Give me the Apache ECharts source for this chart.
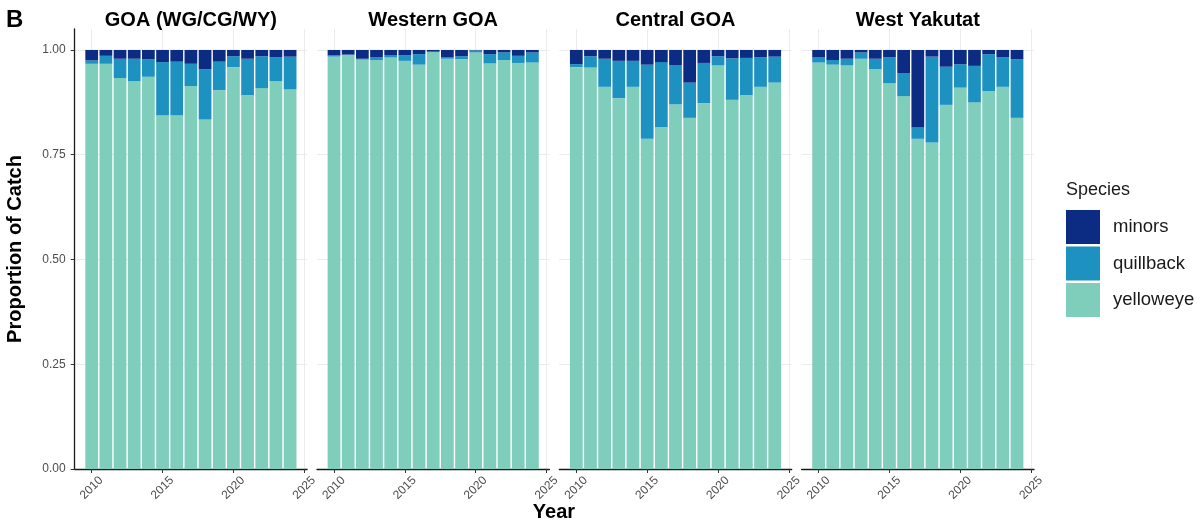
<!DOCTYPE html>
<html>
<head>
<meta charset="utf-8">
<script src="https://cdn.jsdelivr.net/npm/echarts@6/dist/echarts.min.js"></script>
<style>
  html, body { margin: 0; padding: 0; background: #ffffff; }
  #chart { width: 1201px; height: 524px; }
</style>
</head>
<body>
<div id="chart"></div>
<script>
// Catch composition by year, one panel per management area
const years = [2010, 2011, 2012, 2013, 2014, 2015, 2016, 2017, 2018, 2019, 2020, 2021, 2022, 2023, 2024];
const regions = ['GOA (WG/CG/WY)', 'Western GOA', 'Central GOA', 'West Yakutat'];
const speciesOrder = ['minors', 'quillback', 'yelloweye'];
const yearTicks = [2010, 2015, 2020, 2025];
const proportionTicks = [0, 0.25, 0.5, 0.75, 1];

// GOA (WG/CG/WY)
const yelloweyeGOA = [0.967, 0.967, 0.933, 0.925, 0.936, 0.844, 0.844, 0.914, 0.834, 0.904, 0.959, 0.892, 0.909, 0.925, 0.906];
const quillbackGOA = [0.008, 0.019, 0.046, 0.054, 0.042, 0.127, 0.128, 0.053, 0.120, 0.068, 0.026, 0.087, 0.076, 0.058, 0.078];
const minorsGOA    = [0.025, 0.014, 0.021, 0.021, 0.022, 0.029, 0.028, 0.033, 0.046, 0.028, 0.015, 0.021, 0.015, 0.017, 0.016];

// Western GOA
const yelloweyeWG = [0.984, 0.988, 0.977, 0.976, 0.982, 0.974, 0.965, 0.995, 0.979, 0.978, 0.994, 0.968, 0.976, 0.969, 0.970];
const quillbackWG = [0.003, 0.001, 0.002, 0.007, 0.006, 0.013, 0.025, 0.001, 0.003, 0.007, 0.005, 0.022, 0.018, 0.017, 0.024];
const minorsWG    = [0.013, 0.011, 0.021, 0.017, 0.012, 0.013, 0.010, 0.004, 0.018, 0.015, 0.001, 0.010, 0.006, 0.014, 0.006];

// Central GOA
const yelloweyeCG = [0.959, 0.958, 0.912, 0.885, 0.912, 0.788, 0.816, 0.870, 0.838, 0.873, 0.963, 0.881, 0.892, 0.912, 0.922];
const quillbackCG = [0.007, 0.027, 0.067, 0.089, 0.062, 0.177, 0.155, 0.094, 0.084, 0.096, 0.022, 0.099, 0.089, 0.071, 0.062];
const minorsCG    = [0.034, 0.015, 0.021, 0.026, 0.026, 0.035, 0.029, 0.036, 0.078, 0.031, 0.015, 0.020, 0.019, 0.017, 0.016];

// West Yakutat
const yelloweyeWY = [0.970, 0.965, 0.963, 0.979, 0.954, 0.921, 0.890, 0.788, 0.779, 0.869, 0.910, 0.875, 0.902, 0.912, 0.838];
const quillbackWY = [0.012, 0.011, 0.016, 0.015, 0.025, 0.062, 0.055, 0.027, 0.205, 0.091, 0.056, 0.087, 0.088, 0.071, 0.140];
const minorsWY    = [0.018, 0.024, 0.021, 0.006, 0.021, 0.017, 0.055, 0.185, 0.016, 0.040, 0.034, 0.038, 0.010, 0.017, 0.022];

const panelData = [
  { yelloweye: yelloweyeGOA, quillback: quillbackGOA, minors: minorsGOA },
  { yelloweye: yelloweyeWG,  quillback: quillbackWG,  minors: minorsWG },
  { yelloweye: yelloweyeCG,  quillback: quillbackCG,  minors: minorsCG },
  { yelloweye: yelloweyeWY,  quillback: quillbackWY,  minors: minorsWY }
];

const colors = { minors: '#0c2c84', quillback: '#1d91c0', yelloweye: '#7fcdbb' };
const FONT = '"Liberation Sans", Arial, Helvetica, sans-serif';

// Panel geometry
const panelLeft0 = 74.7, panelWidth = 232.4, panelStep = 242.3;
const panelTop = 29, panelHeight = 440;

const grids = [], xAxes = [], yAxes = [], series = [], graphics = [];

regions.forEach((name, i) => {
  const left = panelLeft0 + i * panelStep;
  grids.push({ left: left, top: panelTop, width: panelWidth, height: panelHeight, containLabel: false });

  xAxes.push({
    gridIndex: i, type: 'value', min: 2008.8, max: 2025.2,
    axisLine: { show: true, onZero: false, lineStyle: { color: '#1a1a1a', width: 1.3 } },
    axisTick: { show: true, length: 4, customValues: yearTicks, lineStyle: { color: '#333333', width: 1 } },
    axisLabel: {
      customValues: yearTicks, rotate: 45, align: 'center', verticalAlign: 'middle', margin: 19,
      fontSize: 12, color: '#4d4d4d', fontFamily: FONT, formatter: v => String(v)
    },
    splitLine: { show: true, lineStyle: { color: '#ebebeb', width: 1 } }
  });

  const first = i === 0;
  yAxes.push({
    gridIndex: i, type: 'value', min: 0, max: 1.05,
    axisLine: { show: first, onZero: false, lineStyle: { color: '#1a1a1a', width: 1.3 } },
    axisTick: { show: first, length: 4, customValues: proportionTicks, lineStyle: { color: '#333333', width: 1 } },
    axisLabel: {
      show: first, customValues: proportionTicks, margin: 9,
      fontSize: 12, color: '#4d4d4d', fontFamily: FONT, formatter: v => v.toFixed(2)
    },
    splitLine: { show: true, lineStyle: { color: '#ebebeb', width: 1 } }
  });

  // stacked bottom-up: yelloweye, quillback, minors
  // share is the first dimension so the stack runs along the proportion axis
  ['yelloweye', 'quillback', 'minors'].forEach(sp => {
    series.push({
      name: sp, type: 'bar', xAxisIndex: i, yAxisIndex: i, stack: 'panel' + i,
      barWidth: '90%',
      dimensions: ['share', 'year'],
      encode: { x: 'year', y: 'share' },
      itemStyle: { color: colors[sp] },
      emphasis: { disabled: true },
      data: years.map((yr, k) => [panelData[i][sp][k], yr])
    });
  });

  graphics.push({
    type: 'text', x: left + panelWidth / 2, y: 20.5,
    style: { text: name, align: 'center', verticalAlign: 'middle', font: 'bold 20px ' + FONT, fill: '#000000' }
  });
});

graphics.push(
  { type: 'text', x: 6, y: 20, style: { text: 'B', align: 'left', verticalAlign: 'middle', font: 'bold 24px ' + FONT, fill: '#000000' } },
  { type: 'text', x: 554, y: 512, style: { text: 'Year', align: 'center', verticalAlign: 'middle', font: 'bold 20px ' + FONT, fill: '#000000' } },
  { type: 'text', x: 15, y: 249, rotation: Math.PI / 2,
    style: { text: 'Proportion of Catch', align: 'center', verticalAlign: 'middle', font: 'bold 20px ' + FONT, fill: '#000000' } },
  { type: 'text', x: 1066, y: 190, style: { text: 'Species', align: 'left', verticalAlign: 'middle', font: '18px ' + FONT, fill: '#1a1a1a' } }
);

const chart = echarts.init(document.getElementById('chart'), null, { renderer: 'canvas' });
chart.setOption({
  animation: false,
  backgroundColor: '#ffffff',
  grid: grids,
  xAxis: xAxes,
  yAxis: yAxes,
  series: series,
  legend: {
    orient: 'vertical', left: 1066, top: 210, padding: 0,
    itemWidth: 34, itemHeight: 34, itemGap: 2.5, icon: 'rect',
    selectedMode: false,
    data: speciesOrder,
    textStyle: { fontSize: 18.5, color: '#1a1a1a', fontFamily: FONT, padding: [0, 0, 0, 8] }
  },
  graphic: graphics
});
</script>
</body>
</html>
